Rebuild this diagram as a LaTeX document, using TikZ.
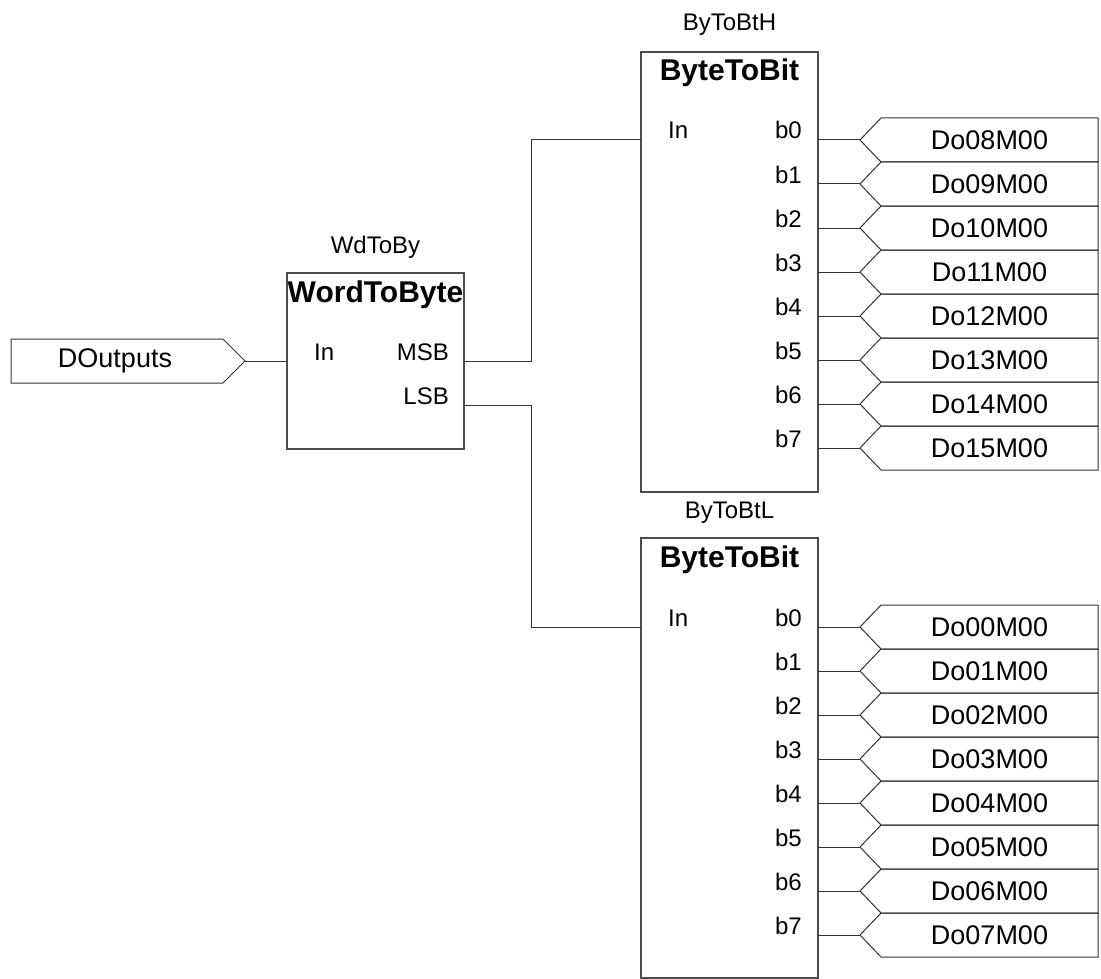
\documentclass[tikz,border=0pt]{standalone}
\usepackage{fontspec}
\setmainfont{Liberation Sans}
\begin{document}
\begin{tikzpicture}[x=1pt,y=-1pt,
  wire/.style={draw=black!80, line width=1pt},
  blockbox/.style={draw=black!70, line width=1.2pt, inner sep=0pt, minimum width=177pt},
  blocktitle/.style={font=\fontsize{30}{34}\selectfont\bfseries, anchor=base, inner sep=0pt},
  inst/.style={font=\fontsize{24}{28}\selectfont, anchor=base, inner sep=0pt},
  portl/.style={font=\fontsize{24}{28}\selectfont, anchor=base west, inner sep=0pt},
  portr/.style={font=\fontsize{24}{28}\selectfont, anchor=base east, inner sep=0pt},
  iolabel/.style={font=\fontsize{27}{32}\selectfont, inner sep=0pt},
  ioshape/.style={draw=black!80, line width=1pt}]
\useasboundingbox (0,0) rectangle (1101,979);

% input connector DOutputs
\draw[ioshape] (11,339) -- (223,339) -- (245,361) -- (223,383) -- (11,383) -- cycle;
\node[iolabel] (din) at (115,361) {DOutputs};
\coordinate (dtip) at (245,361);

% WordToByte block
\node[blockbox, minimum height=176pt] (wtb) at (375.5,361) {};
\node[blocktitle] (wtbt) at (375.5,302) {WordToByte};
\node[inst] (wtbi) at (375.5,253) {WdToBy};
\node[portl] (wtbin) at (314,360) {In};
\node[portr] (wtbmsb) at (449,360) {MSB};
\node[portr] (wtblsb) at (449,404) {LSB};
\coordinate (wtb-msb) at (464,361);
\coordinate (wtb-lsb) at (464,405);

% ByteToBit high
\node[blockbox, minimum height=440pt] (bth) at (729.5,272) {};
\node[blocktitle] (btht) at (729.5,81) {ByteToBit};
\node[inst] (bthi) at (729.5,31) {ByToBtH};
\node[portl] (bthin) at (668,139) {In};
\coordinate (bth-in) at (641,140);

% ByteToBit low
\node[blockbox, minimum height=440pt] (btl) at (729.5,758) {};
\node[blocktitle] (btlt) at (729.5,567) {ByteToBit};
\node[inst] (btli) at (729.5,518) {ByToBtL};
\node[portl] (btlin) at (668,626) {In};
\coordinate (btl-in) at (641,627);

% wires
\draw[wire] (dtip) -- (wtb.west);
\draw[wire] (wtb-msb) -- ++(67,0) |- (bth-in);
\draw[wire] (wtb-lsb) -- ++(67,0) |- (btl-in);

% outputs high
\foreach \i/\n in {0/08,1/09,2/10,3/11,4/12,5/13,6/14,7/15} {
  \pgfmathsetmacro{\yy}{140+44*\i}
  \node[portr] (bthb\i) at (802,\yy-1) {b\i};
  \coordinate (bth-b\i) at (818,\yy);
  \coordinate (oht\i) at (860,\yy);
  \draw[ioshape] (oht\i) -- (881,\yy-22) -- (1098,\yy-22) -- (1098,\yy+22) -- (881,\yy+22) -- cycle;
  \node[iolabel] (oh\i) at (989.5,\yy) {Do\n M00};
  \draw[wire] (bth-b\i) -- (oht\i);
}

% outputs low
\foreach \i/\n in {0/00,1/01,2/02,3/03,4/04,5/05,6/06,7/07} {
  \pgfmathsetmacro{\yy}{627+44*\i}
  \node[portr] (btlb\i) at (802,\yy-1) {b\i};
  \coordinate (btl-b\i) at (818,\yy);
  \coordinate (olt\i) at (860,\yy);
  \draw[ioshape] (olt\i) -- (881,\yy-22) -- (1098,\yy-22) -- (1098,\yy+22) -- (881,\yy+22) -- cycle;
  \node[iolabel] (ol\i) at (989.5,\yy) {Do\n M00};
  \draw[wire] (btl-b\i) -- (olt\i);
}
\end{tikzpicture}
\end{document}
